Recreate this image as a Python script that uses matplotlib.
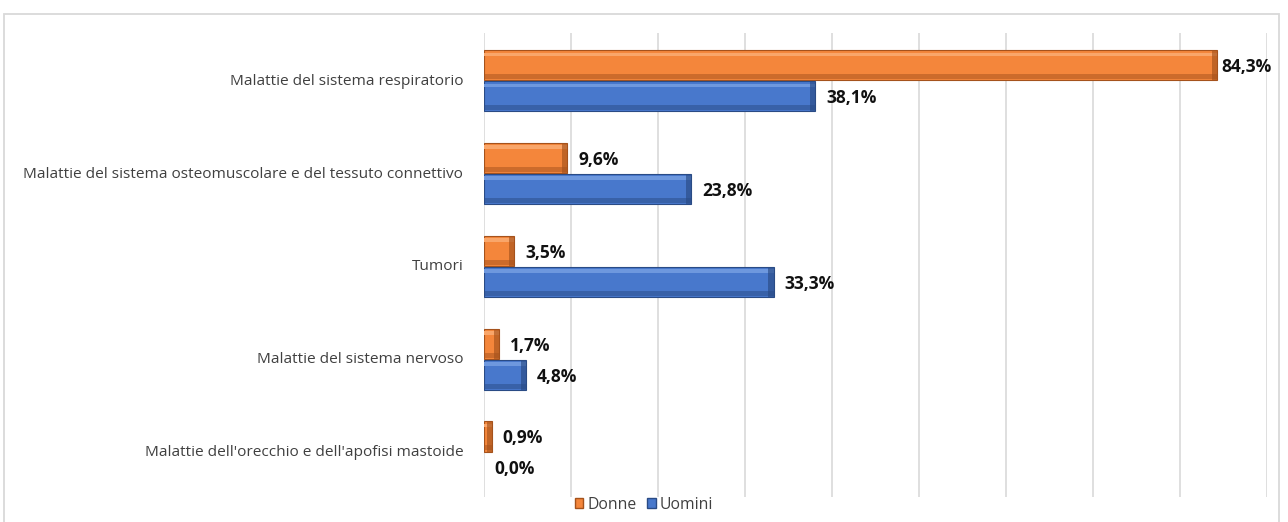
import matplotlib
matplotlib.use("Agg")
import matplotlib.pyplot as plt
from matplotlib import font_manager as fm
from matplotlib.patches import Rectangle, Patch
import numpy as np

plt.rcParams['font.family'] = ['Open Sans', 'DejaVu Sans']

categories = [
    "Malattie del sistema respiratorio",
    "Malattie del sistema osteomuscolare e del tessuto connettivo",
    "Tumori",
    "Malattie del sistema nervoso",
    "Malattie dell'orecchio e dell'apofisi mastoide",
]
donne = [84.3, 9.6, 3.5, 1.7, 0.9]
uomini = [38.1, 23.8, 33.3, 4.8, 0.0]
series_names = ["Donne", "Uomini"]

orange = "#F4863B"
orange_light = "#F9A66A"
orange_dark = "#A5521C"
blue = "#4878CC"
blue_light = "#6E98DE"
blue_dark = "#2A4B85"

# bold label font: Open Sans Bold (normal width)
bold_path = None
for f in fm.fontManager.ttflist:
    if f.fname.endswith("OpenSans-Bold.ttf"):
        bold_path = f.fname
        break
if bold_path:
    bold_fp = fm.FontProperties(fname=bold_path, size=12.5)
else:
    bold_fp = fm.FontProperties(family="DejaVu Sans", weight="bold", size=11)

fig = plt.figure(figsize=(12.88, 5.22), dpi=100)
# outer frame
fig.patches.append(Rectangle((3.5 / 1288, -0.01), (1278.5 - 3.5) / 1288, 1 - 13.5 / 522 + 0.01,
                             transform=fig.transFigure, fill=False, edgecolor="#D9D9D9", lw=1.3))

ax = fig.add_axes([484 / 1288, 1 - 497 / 522, (1266.7 - 484) / 1288, (497 - 33) / 522])

n = len(categories)
y = np.arange(n)
h = 0.325
yd = y - h / 2 + 0.01
yu = y + h / 2 + 0.02
XMAX = 90


def bevel_bars(yc, vals, base, light, dark):
    vals = np.array(vals)
    lws = [0.8 if v > 0 else 0 for v in vals]
    ax.barh(yc, vals, height=h, color=base, edgecolor=dark, linewidth=lws, zorder=3)
    # top highlight strip
    ax.barh(yc - h * 0.36, vals, height=h * 0.12, color=light, linewidth=0, zorder=4)
    # bottom shadow strip
    ax.barh(yc + h * 0.38, vals, height=h * 0.16, color=dark, alpha=0.5, linewidth=0, zorder=4)
    # right end shade
    endw = np.minimum(vals, 0.6)
    ax.barh(yc, endw, left=vals - endw, height=h, color=dark, alpha=0.65, linewidth=0, zorder=5)


bevel_bars(yd, donne, orange, orange_light, orange_dark)
bevel_bars(yu, uomini, blue, blue_light, blue_dark)


def label(yy, v):
    x = min(v + 1.25, XMAX - 5.2)
    ax.text(x, yy + 0.02, f"{v:.1f}%".replace(".", ","), va="center", ha="left",
            fontproperties=bold_fp, color="#111111", zorder=6)


for yy, v in zip(yd, donne):
    label(yy, v)
for yy, v in zip(yu, uomini):
    label(yy, v)

ax.set_xlim(0, XMAX)
ax.set_ylim(n - 0.5, -0.5)
ax.set_xticks(np.arange(0, XMAX + 1, 10))
ax.set_xticklabels([])
ax.set_yticks(y)
ax.set_yticklabels(categories, fontsize=11.1, color="#404040")
ax.tick_params(axis="both", length=0)
ax.tick_params(axis="y", pad=15)
ax.grid(axis="x", color="#D9D9D9", lw=1.2, zorder=0)
for s in ax.spines.values():
    s.set_visible(False)

# legend
handles = [Patch(facecolor=orange, edgecolor=orange_dark, lw=1),
           Patch(facecolor=blue, edgecolor=blue_dark, lw=1)]
fig.legend(handles, series_names, loc="center", bbox_to_anchor=(0.5, 1 - 505 / 522), ncol=2,
           frameon=False, fontsize=11.3, handlelength=0.55, handleheight=0.6, handletextpad=0.25,
           columnspacing=0.7, labelcolor="#404040")

fig.savefig("out.png", dpi=100)
